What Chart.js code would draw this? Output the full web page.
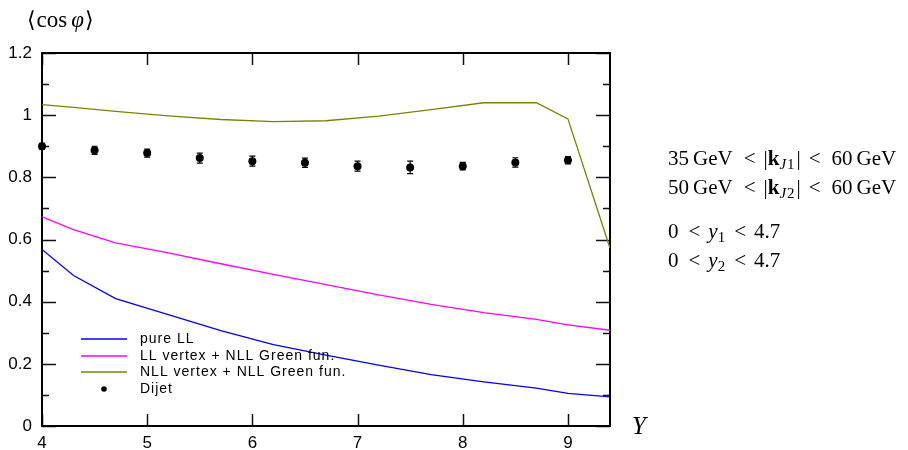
<!DOCTYPE html>
<html lang="en">
<head>
  <meta charset="UTF-8">
  <title>cos phi vs Y</title>
  <!-- Chart.js -->
  <script src="https://cdn.jsdelivr.net/npm/chart.js@4.4.1/dist/chart.umd.min.js"></script>
  <style>
    body { margin: 0; background: #ffffff; }
    #wrap { width: 908px; height: 450px; }
  </style>
</head>
<body>
<div id="wrap"><canvas id="cosChart" width="908" height="450"></canvas></div>

<script>
  // ---------- data ----------
  // rapidity values where the BFKL curves are computed
  const curveY    = [4.0, 4.3, 4.7, 5.2, 5.7, 6.2, 6.7, 7.2, 7.7, 8.2, 8.7, 9.0, 9.4];
  const pureLL    = [0.568, 0.484, 0.410, 0.358, 0.307, 0.262, 0.228, 0.196, 0.165, 0.142, 0.122, 0.105, 0.094];
  const llVertex  = [0.673, 0.632, 0.589, 0.557, 0.522, 0.488, 0.455, 0.422, 0.391, 0.365, 0.343, 0.325, 0.308];
  const nllVertex = [1.034, 1.025, 1.012, 0.998, 0.986, 0.979, 0.982, 0.997, 1.018, 1.040, 1.040, 0.988, 0.572];

  // Dijet points with errors
  const dijetY   = [4, 4.5, 5, 5.5, 6, 6.5, 7, 7.5, 8, 8.5, 9];
  const dijetVal = [0.900, 0.887, 0.878, 0.862, 0.852, 0.847, 0.836, 0.832, 0.836, 0.848, 0.855];
  const dijetErr = [0.009, 0.013, 0.013, 0.016, 0.016, 0.015, 0.016, 0.020, 0.012, 0.015, 0.012];

  const seriesLabels = ['pure LL', 'LL vertex + NLL Green fun.', 'NLL vertex + NLL Green fun.', 'Dijet'];
  const seriesColors = ['#0000ff', '#ff00ff', '#808000', '#000000'];

  const xTicks = [4, 5, 6, 7, 8, 9];
  const yTicks = [0, 0.2, 0.4, 0.6, 0.8, 1, 1.2];
  const yMinor = [0.1, 0.3, 0.5, 0.7, 0.9, 1.1];

  const toPts = (xs, ys) => xs.map((x, i) => ({x: x, y: ys[i]}));

  // ---------- plugin: frame with inward ticks (gnuplot look) ----------
  const framePlugin = {
    id: 'frame',
    beforeDatasetsDraw(chart) {
      const {ctx, chartArea: a, scales: {x, y}} = chart;
      ctx.save();
      ctx.strokeStyle = '#111';
      ctx.lineWidth = 1.5;
      ctx.beginPath();
      xTicks.forEach(v => {
        const px = Math.round(x.getPixelForValue(v)) + 0.5;
        ctx.moveTo(px, a.bottom); ctx.lineTo(px, a.bottom - 12);
        ctx.moveTo(px, a.top);    ctx.lineTo(px, a.top + 12);
      });
      yTicks.forEach(v => {
        const py = Math.round(y.getPixelForValue(v)) + 0.5;
        ctx.moveTo(a.left, py);  ctx.lineTo(a.left + 14, py);
        ctx.moveTo(a.right, py); ctx.lineTo(a.right - 14, py);
      });
      yMinor.forEach(v => {
        const py = Math.round(y.getPixelForValue(v)) + 0.5;
        ctx.moveTo(a.left, py);  ctx.lineTo(a.left + 7, py);
        ctx.moveTo(a.right, py); ctx.lineTo(a.right - 7, py);
      });
      ctx.stroke();
      ctx.lineWidth = 2;
      ctx.strokeStyle = '#000';
      ctx.strokeRect(a.left, a.top, a.right - a.left, a.bottom - a.top);
      ctx.restore();
    }
  };

  // ---------- plugin: error bars for the Dijet set ----------
  const errorBars = {
    id: 'errorBars',
    afterDatasetsDraw(chart) {
      const {ctx, scales: {y}} = chart;
      const meta = chart.getDatasetMeta(3);
      ctx.save();
      ctx.strokeStyle = '#000';
      ctx.lineWidth = 1.2;
      ctx.beginPath();
      meta.data.forEach((pt, i) => {
        const yl = y.getPixelForValue(dijetVal[i] - dijetErr[i]);
        const yh = y.getPixelForValue(dijetVal[i] + dijetErr[i]);
        ctx.moveTo(pt.x, yl); ctx.lineTo(pt.x, yh);
        ctx.moveTo(pt.x - 3, yl); ctx.lineTo(pt.x + 3, yl);
        ctx.moveTo(pt.x - 3, yh); ctx.lineTo(pt.x + 3, yh);
      });
      ctx.stroke();
      ctx.restore();
    }
  };

  // ---------- plugin: legend inside the plot ----------
  const innerLegend = {
    id: 'innerLegend',
    afterDraw(chart) {
      const {ctx} = chart;
      ctx.save();
      ctx.font = '14px "Liberation Sans", Arial, sans-serif';
      ctx.letterSpacing = '1px';
      ctx.textBaseline = 'middle';
      ctx.fillStyle = '#000';
      const rowY = [339, 356, 372, 389];
      seriesLabels.forEach((lab, i) => {
        if (i < 3) {
          ctx.strokeStyle = seriesColors[i];
          ctx.lineWidth = 1.3;
          ctx.beginPath();
          ctx.moveTo(81, rowY[i]); ctx.lineTo(127, rowY[i]);
          ctx.stroke();
        } else {
          ctx.beginPath();
          ctx.arc(104, rowY[i], 2.8, 0, Math.PI * 2);
          ctx.fill();
        }
        ctx.fillText(lab, 140, rowY[i]);
      });
      ctx.restore();
    }
  };

  // ---------- plugin: axis titles and cut text ----------
  function richLine(ctx, x, y, parts) {
    parts.forEach(p => {
      ctx.font = p.f;
      ctx.fillText(p.t, x, y + (p.dy || 0));
      x += ctx.measureText(p.t).width + (p.gap || 0);
    });
  }

  const annotations = {
    id: 'annotations',
    afterDraw(chart) {
      const {ctx} = chart;
      const serif = '"Liberation Serif", "DejaVu Serif", serif';
      const rm = '21px ' + serif, it = 'italic 21px ' + serif, bf = 'bold 21px ' + serif;
      const sub = 'italic 15px ' + serif, subRm = '15px ' + serif;
      ctx.save();
      ctx.fillStyle = '#000';
      ctx.textBaseline = 'alphabetic';
      ctx.textAlign = 'left';

      // y title
      richLine(ctx, 27, 27, [
        {t: '\u27E8', f: '22px "DejaVu Serif", serif', gap: 1},
        {t: 'cos', f: '23px ' + serif, gap: 4},
        {t: '\u03C6', f: 'italic 23px ' + serif, gap: 1},
        {t: '\u27E9', f: '22px "DejaVu Serif", serif'}
      ]);
      // x title
      ctx.font = 'italic 25px ' + serif;
      ctx.fillText('Y', 632, 434);

      // cut description
      [['35', '1', 165], ['50', '2', 194]].forEach(([lo, j, by]) => {
        richLine(ctx, 668, by, [
          {t: lo, f: rm, gap: 4}, {t: 'GeV', f: rm, gap: 11}, {t: '<', f: rm, gap: 8},
          {t: '|', f: rm, gap: 0}, {t: 'k', f: bf, gap: 0}, {t: 'J', f: sub, dy: 4, gap: 1}, {t: j, f: subRm, dy: 4, gap: 2},
          {t: '|', f: rm, gap: 8}, {t: '<', f: rm, gap: 11}, {t: '60', f: rm, gap: 4}, {t: 'GeV', f: rm}
        ]);
      });
      [['1', 238], ['2', 267]].forEach(([n, by]) => {
        richLine(ctx, 668, by, [
          {t: '0', f: rm, gap: 10}, {t: '<', f: rm, gap: 8}, {t: 'y', f: it, gap: 0}, {t: n, f: subRm, dy: 4, gap: 9},
          {t: '<', f: rm, gap: 8}, {t: '4.7', f: rm}
        ]);
      });
      ctx.restore();
    }
  };

  // ---------- chart ----------
  const tickFont = {family: '"Liberation Sans", Arial, sans-serif', size: 17};

  new Chart(document.getElementById('cosChart'), {
    type: 'line',
    data: {
      datasets: [
        {label: seriesLabels[0], data: toPts(curveY, pureLL), borderColor: seriesColors[0], borderWidth: 1.3, pointRadius: 0, tension: 0, fill: false},
        {label: seriesLabels[1], data: toPts(curveY, llVertex), borderColor: seriesColors[1], borderWidth: 1.3, pointRadius: 0, tension: 0, fill: false},
        {label: seriesLabels[2], data: toPts(curveY, nllVertex), borderColor: seriesColors[2], borderWidth: 1.3, pointRadius: 0, tension: 0, fill: false},
        {label: seriesLabels[3], data: toPts(dijetY, dijetVal), showLine: false, pointRadius: 4, clip: false,
          pointBackgroundColor: '#000', pointBorderColor: '#000', pointBorderWidth: 0}
      ]
    },
    options: {
      responsive: false,
      animation: false,
      events: [],
      layout: {padding: {left: 0, right: 298, top: 53, bottom: 0}},
      plugins: {legend: {display: false}, tooltip: {enabled: false}},
      scales: {
        x: {
          type: 'linear', min: 4, max: 9.4,
          grid: {display: false, drawTicks: false},
          border: {display: false},
          afterBuildTicks: s => { s.ticks = xTicks.map(v => ({value: v})); },
          afterFit: s => { s.height = 24; },
          ticks: {color: '#000', font: tickFont, padding: 7, maxRotation: 0, callback: v => String(v)}
        },
        y: {
          type: 'linear', min: 0, max: 1.2,
          grid: {display: false, drawTicks: false},
          border: {display: false},
          afterBuildTicks: s => { s.ticks = yTicks.map(v => ({value: v})); },
          afterFit: s => { s.width = 42; },
          ticks: {color: '#000', font: tickFont, padding: 10, callback: v => String(Math.round(v * 10) / 10)}
        }
      }
    },
    plugins: [framePlugin, errorBars, innerLegend, annotations]
  });
</script>
</body>
</html>
